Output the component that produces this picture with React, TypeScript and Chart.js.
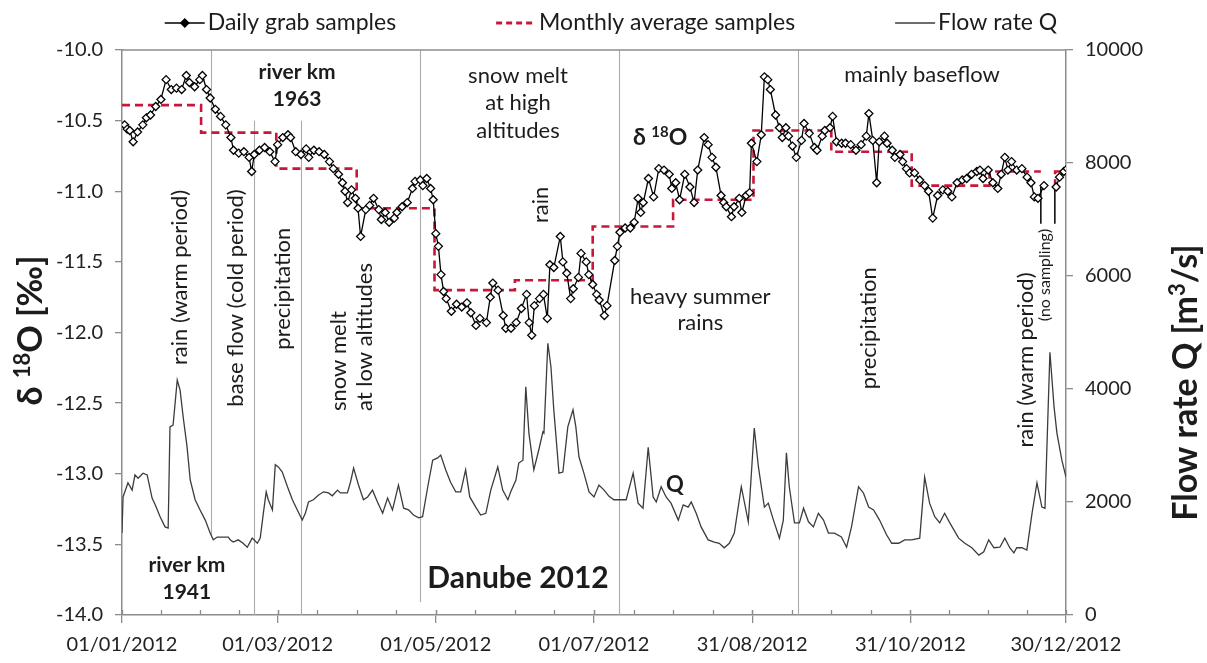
import React, { useEffect, useRef } from 'react';
import { Chart, registerables } from 'chart.js';

Chart.register(...registerables);

const FONT = 'Lato, "Open Sans", "DejaVu Sans", sans-serif';
const INK = '#1c1c1c';
const AXIS = '#8c8c8c';
const RED = '#c8173a';
const SEP = '#ababab';

// ---------- x axis (day of year 2012) ----------
const tickDays = [0, 60, 121, 182, 243, 304, 364];
const tickLabels = ['01/01/2012', '01/03/2012', '01/05/2012', '01/07/2012', '31/08/2012', '31/10/2012', '30/12/2012'];

// ---------- daily grab samples: delta 18O [permil] ----------
const dailyDays = [
  1, 2, 3, 4.3, 6, 8, 9.4, 11, 13, 15, 17, 19, 21, 23, 24.8, 26, 28, 30, 31, 32.6,
  34, 36, 38, 40, 42, 43, 45, 47, 49, 50, 51, 53, 55, 57, 59, 60, 62, 64, 65, 67,
  69, 71, 72, 74, 76, 78, 80, 81.5, 83.5, 85, 86, 87, 88.5, 90, 91, 92, 94, 95.5, 97, 99,
  100, 101.5, 103, 105, 106, 108, 110, 112, 113, 115, 116, 117.5, 119, 120, 121, 122, 123, 124, 125, 127,
  129, 131, 133, 134.5, 136.5, 138, 140.5, 142, 143, 145, 147, 148, 150, 152, 154, 156, 157, 158, 159, 161,
  162.5, 164, 165, 166.5, 169, 170, 171.5, 173, 174, 176, 177, 179, 180, 181.5, 183, 184, 186, 187, 190, 191,
  192, 194, 196, 197.5, 199, 200, 201, 203, 205, 207, 209, 211, 212, 213.5, 215, 217, 219, 220.6, 222, 224.5,
  226, 227.5, 229, 231, 232, 233, 235, 236, 238, 239, 240.7, 242, 242.7, 244.8, 246.5, 247.7, 249, 250, 252, 253.5,
  254.6, 256, 257, 258.5, 260, 262, 263, 265, 267, 268, 270, 271, 273, 274, 275.5, 277.5, 279, 281, 283, 285,
  287, 288, 289.5, 291, 292, 294, 295, 297, 298, 300, 301, 302.5, 303.7, 305.6, 307.6, 309.5, 311, 312.6, 314.5, 316.5,
  318.4, 320, 322, 324, 325.7, 327.6, 329.6, 330.8, 332, 334, 335.8, 337.7, 339, 340.4, 341.6, 343, 345, 347, 349, 350.5,
  351.8, 353.2, 355.5, 357.8, 360.2, 361.5, 363.2, 364.5,
];
const dailyD18O = [
  -10.53, -10.56, -10.57, -10.65, -10.58, -10.53, -10.48, -10.46, -10.40, -10.35, -10.21, -10.28, -10.27, -10.28, -10.18, -10.23, -10.26, -10.21, -10.18, -10.28,
  -10.34, -10.42, -10.47, -10.53, -10.62, -10.71, -10.73, -10.72, -10.76, -10.86, -10.74, -10.71, -10.69, -10.72, -10.79, -10.67, -10.62, -10.60, -10.62, -10.72,
  -10.74, -10.70, -10.76, -10.71, -10.72, -10.74, -10.79, -10.84, -10.88, -10.94, -11.00, -11.08, -10.99, -11.05, -11.12, -11.32, -11.13, -11.10, -11.05, -11.13,
  -11.20, -11.15, -11.22, -11.19, -11.15, -11.11, -11.08, -10.98, -10.93, -10.92, -10.96, -10.91, -10.98, -11.06, -11.30, -11.39, -11.59, -11.71, -11.76, -11.85,
  -11.80, -11.82, -11.79, -11.86, -11.95, -11.90, -11.93, -11.75, -11.65, -11.70, -11.88, -11.97, -11.97, -11.93, -11.83, -11.73, -11.93, -12.02, -11.81, -11.76,
  -11.73, -11.90, -11.52, -11.54, -11.32, -11.50, -11.58, -11.76, -11.69, -11.61, -11.44, -11.50, -11.59, -11.66, -11.73, -11.77, -11.88, -11.81, -11.49, -11.39,
  -11.29, -11.26, -11.26, -11.22, -11.05, -11.15, -11.08, -10.91, -11.04, -10.84, -10.85, -10.88, -10.98, -10.94, -11.06, -10.88, -10.97, -11.08, -10.85, -10.62,
  -10.67, -10.76, -10.83, -11.03, -11.08, -11.11, -11.18, -11.11, -11.05, -11.15, -11.03, -11.01, -10.66, -10.79, -10.60, -10.19, -10.21, -10.28, -10.46, -10.55,
  -10.62, -10.55, -10.61, -10.68, -10.76, -10.64, -10.52, -10.59, -10.69, -10.71, -10.61, -10.57, -10.55, -10.47, -10.65, -10.66, -10.66, -10.67, -10.71, -10.67,
  -10.61, -10.45, -10.64, -10.94, -10.65, -10.61, -10.66, -10.71, -10.76, -10.74, -10.79, -10.84, -10.87, -10.87, -10.92, -10.96, -11.00, -11.19, -11.03, -10.99,
  -11.00, -11.04, -10.94, -10.92, -10.91, -10.88, -10.86, -10.85, -10.91, -10.85, -10.94, -10.98, -10.88, -10.76, -10.85, -10.79, -10.85, -10.84, -10.90, -10.94,
  -11.04, -11.05, -10.96, null, -10.97, -10.90, -10.86, -10.84,
];

// ---------- no-sampling markers (vertical strokes) ----------
const gapDays = [354.3, 354.3, 357, 359.7, 359.7];
const gapD18O = [-10.97, -11.23, null, -11.23, -10.97];

// ---------- monthly average samples ----------
const avgDays = [0, 30.5, 59.5, 90.5, 120.5, 151.5, 181.5, 212.5, 243.5, 273.5, 304.5, 334.5, 354.3, 357, 359.7, 359.8, 364.5];
const avgD18O = [-10.39, -10.585, -10.84, -11.12, -11.70, -11.63, -11.25, -11.06, -10.57, -10.72, -10.96, -10.86, -10.86, null, -10.97, -10.86, -10.86];

// ---------- flow rate Q [m3/s] ----------
const flowDays = [
  0, 0.4, 2.3, 3.9, 5, 6.2, 8.1, 9.7, 11.6, 12.8, 14.7, 16.6, 17.8, 18.5, 19.7, 21.3, 22.4, 23.6, 25.1, 26.3,
  28.2, 30.1, 32.1, 34, 35.2, 36.7, 39, 41, 41.7, 42.9, 44.8, 46.7, 48.3, 50.2, 52.2, 53.3, 54.5, 55.6, 56.4, 58,
  59.1, 60.3, 61.8, 63.8, 65.7, 67.6, 69.5, 70.7, 71.9, 73.8, 75.7, 77.7, 79.6, 81.1, 83.1, 84.2, 86.9, 88.1, 89.3, 91.2,
  93.1, 94.7, 96.6, 98.5, 100.5, 102.4, 104.3, 106.6, 108.6, 110.5, 112.4, 114.4, 115.9, 117.9, 119.8, 121.7, 122.9, 124.8, 126.7, 128.7,
  130.6, 132.5, 134.1, 136.4, 138.3, 140.3, 142.2, 144.9, 146.8, 148.8, 149.9, 151.9, 153, 154.6, 155.7, 156.9, 158.8, 160.7, 162.3, 162.7,
  164.2, 165.4, 166.5, 168.5, 170, 171.9, 173.9, 175, 176.2, 178.1, 180.1, 182, 183.9, 185.9, 187.8, 189.7, 191.3, 194.4, 197.1, 199,
  200.9, 202.9, 204.8, 206, 207.9, 209.8, 211.7, 214.5, 216.4, 218.3, 219.5, 221.4, 223.3, 226, 228.4, 230.3, 232.2, 234.2, 236.1, 238.8,
  241.5, 243.8, 245.4, 247.7, 249.2, 251.2, 253.5, 255, 256.2, 257.3, 259.3, 261.2, 262.8, 264.7, 266.6, 268.5, 270.5, 272.4, 274.7, 277.4,
  279.4, 281.3, 284, 285.9, 287.9, 289.8, 292.1, 294.8, 296.8, 299.5, 301.8, 304.5, 307.6, 309.5, 311.4, 313.4, 315.3, 317.2, 319.2, 322.6,
  325, 327.7, 330.4, 332.3, 334.2, 336.2, 338.5, 340.4, 342.3, 343.9, 345, 347, 348.9, 350.9, 352.8, 354.7, 355.9, 357.8, 359.4, 360.5,
  362.4, 364,
];
const flowQ = [
  1450, 2090, 2340, 2210, 2480, 2420, 2510, 2480, 2070, 1950, 1740, 1560, 1540, 3330, 3360, 4160, 3980, 3500, 2970, 2390,
  2040, 1860, 1680, 1450, 1330, 1380, 1380, 1380, 1330, 1290, 1330, 1270, 1200, 1360, 1270, 1360, 1800, 2180, 2040, 1860,
  2660, 2620, 2530, 2270, 2040, 1860, 1680, 1800, 2000, 2040, 2120, 2180, 2160, 2110, 2210, 2160, 2160, 2350, 2600, 2300,
  2040, 2090, 2210, 2000, 1800, 2070, 1860, 2300, 1890, 1860, 1770, 1720, 1740, 2270, 2740, 2780, 2830, 2570, 2350, 2180,
  2180, 2570, 2090, 1910, 1770, 1800, 2210, 2620, 2210, 2040, 2180, 2390, 2690, 2740, 4040, 3220, 2570, 2920, 3240, 3220,
  4810, 4390, 3630, 2510, 2530, 3330, 3630, 3330, 2800, 2510, 2180, 2090, 2300, 2210, 2100, 2040, 2040, 2040, 2510, 1980,
  1890, 2970, 2090, 2000, 2270, 2090, 1980, 1680, 1950, 1910, 2000, 1800, 1560, 1330, 1290, 1270, 1190, 1270, 1450, 2270,
  1650, 3310, 2620, 1910, 1980, 1680, 1360, 1680, 2870, 2270, 1630, 1630, 1890, 1650, 1560, 1800, 1680, 1450, 1450, 1380,
  1200, 1560, 2270, 2160, 1910, 1860, 1680, 1420, 1270, 1270, 1330, 1330, 1360, 2440, 1980, 1740, 1630, 1800, 1630, 1360,
  1270, 1190, 1060, 1120, 1330, 1190, 1200, 1360, 1190, 1100, 1190, 1190, 1150, 1800, 2340, 1910, 1890, 4650, 3680, 3220,
  2740, 2440,
];

// ---------- annotation separators (day, top / bottom in permil) ----------
const separatorDays = [34.5, 51, 69, 115, 191.7, 260.5];
const separatorTop = [-10.0, -10.5, -10.5, -10.0, -10.0, -10.0];
const separatorBottom = [-13.45, -14.0, -14.0, -13.91, -14.0, -14.0];

type Note = { lines: string[]; day: number; d18o: number; size: number; bold?: boolean; rot?: boolean; align?: CanvasTextAlign; lh?: number };
const notes: Note[] = [
  { lines: ['river km', '1963'], day: 67.5, d18o: -10.255, size: 21, bold: true, lh: 27 },
  { lines: ['river km', '1941'], day: 25, d18o: -13.74, size: 21, bold: true, lh: 27 },
  { lines: ['Danube 2012'], day: 152.7, d18o: -13.74, size: 30, bold: true },
  { lines: ['snow melt', 'at high', 'altitudes'], day: 152.7, d18o: -10.375, size: 22, lh: 27.5 },
  { lines: ['heavy summer', 'rains'], day: 223, d18o: -11.84, size: 22, lh: 26 },
  { lines: ['mainly baseflow'], day: 308.5, d18o: -10.177, size: 22 },
  { lines: ['Q'], day: 213.2, d18o: -13.08, size: 22, bold: true },
  { lines: ['rain (warm period)'], day: 22.4, d18o: -11.61, size: 22, rot: true },
  { lines: ['base flow (cold period)'], day: 44, d18o: -11.756, size: 22, rot: true },
  { lines: ['precipitation'], day: 62, d18o: -11.69, size: 22, rot: true },
  { lines: ['snow melt'], day: 83.7, d18o: -12.556, size: 22, rot: true, align: 'left' },
  { lines: ['at low altitudes'], day: 93.7, d18o: -12.556, size: 22, rot: true, align: 'left' },
  { lines: ['rain'], day: 161.6, d18o: -11.097, size: 22, rot: true },
  { lines: ['precipitation'], day: 288, d18o: -11.97, size: 22, rot: true },
  { lines: ['rain (warm period)'], day: 348.6, d18o: -12.195, size: 22, rot: true },
  { lines: ['(no sampling)'], day: 356, d18o: -11.593, size: 16, rot: true },
];

type Part = { text: string; size: number; sup?: boolean };

function drawRich(ctx: CanvasRenderingContext2D, parts: Part[], cx: number, cy: number, rotate: boolean) {
  ctx.save();
  ctx.translate(cx, cy);
  if (rotate) ctx.rotate(-Math.PI / 2);
  ctx.textAlign = 'left';
  ctx.textBaseline = 'alphabetic';
  ctx.fillStyle = INK;
  let total = 0;
  const main = Math.max(...parts.map((p) => p.size));
  parts.forEach((p) => {
    ctx.font = `bold ${p.size}px ${FONT}`;
    total += ctx.measureText(p.text).width;
  });
  let xx = -total / 2;
  const base = main * 0.36;
  parts.forEach((p) => {
    ctx.font = `bold ${p.size}px ${FONT}`;
    ctx.fillText(p.text, xx, p.sup ? base - main * 0.36 : base);
    xx += ctx.measureText(p.text).width;
  });
  ctx.restore();
}

const decor = {
  id: 'decor',
  beforeDatasetsDraw(chart: any) {
    const { ctx, scales } = chart;
    const x = scales.x, y = scales.y;
    ctx.save();
    ctx.strokeStyle = SEP;
    ctx.lineWidth = 1.1;
    separatorDays.forEach((d, i) => {
      const px = Math.round(x.getPixelForValue(d)) + 0.5;
      ctx.beginPath();
      ctx.moveTo(px, y.getPixelForValue(separatorTop[i]));
      ctx.lineTo(px, y.getPixelForValue(separatorBottom[i]));
      ctx.stroke();
    });
    ctx.restore();
  },
  afterDraw(chart: any) {
    const { ctx, chartArea: ca, scales } = chart;
    const x = scales.x, y = scales.y;
    ctx.save();
    // top frame line
    ctx.strokeStyle = AXIS;
    ctx.lineWidth = 1.5;
    ctx.beginPath();
    ctx.moveTo(ca.left, ca.top);
    ctx.lineTo(ca.right, ca.top);
    ctx.stroke();
    // inner ticks (major + minor) on the x axis
    ctx.lineWidth = 1.3;
    for (let i = 0; i < tickDays.length - 1; i++) {
      for (let q = 0; q <= 4; q++) {
        const d = tickDays[i] + ((tickDays[i + 1] - tickDays[i]) * q) / 4;
        const px = Math.round(x.getPixelForValue(d)) + 0.5;
        ctx.beginPath();
        ctx.moveTo(px, ca.bottom);
        ctx.lineTo(px, ca.bottom - 5);
        ctx.stroke();
      }
    }
    // text notes
    ctx.fillStyle = INK;
    notes.forEach((n) => {
      ctx.save();
      ctx.font = `${n.bold ? 'bold ' : ''}${n.size}px ${FONT}`;
      const px = x.getPixelForValue(n.day);
      const py = y.getPixelForValue(n.d18o);
      ctx.translate(px, py);
      if (n.rot) ctx.rotate(-Math.PI / 2);
      ctx.textAlign = n.align || 'center';
      ctx.textBaseline = 'middle';
      const lh = n.lh || n.size * 1.2;
      const off = ((n.lines.length - 1) * lh) / 2;
      n.lines.forEach((l, k) => ctx.fillText(l, 0, k * lh - off));
      ctx.restore();
    });
    // delta 18O label
    drawRich(
      ctx,
      [
        { text: 'δ ', size: 23 },
        { text: '18', size: 15, sup: true },
        { text: 'O', size: 23 },
      ],
      x.getPixelForValue(207.5),
      y.getPixelForValue(-10.616),
      false
    );
    // axis titles
    drawRich(
      ctx,
      [
        { text: 'δ ', size: 34 },
        { text: '18', size: 22, sup: true },
        { text: 'O [‰]', size: 34 },
      ],
      30,
      (ca.top + ca.bottom) / 2 - 2,
      true
    );
    drawRich(
      ctx,
      [
        { text: 'Flow rate Q [m', size: 34 },
        { text: '3', size: 22, sup: true },
        { text: '/s]', size: 34 },
      ],
      chart.width - 22,
      (ca.top + ca.bottom) / 2 + 50,
      true
    );
    // legend
    const ds = chart.data.datasets;
    const items = [
      { label: ds[0].label, kind: 'daily' },
      { label: ds[2].label, kind: 'avg' },
      { label: ds[3].label, kind: 'flow' },
    ];
    const LS = 23;
    ctx.font = `${LS}px ${FONT}`;
    const sym = 40, gap = 3, space = 100;
    const widths = items.map((it) => sym + gap + ctx.measureText(it.label).width);
    const total = widths.reduce((a, b) => a + b, 0) + space * (items.length - 1);
    let x0 = 611 - total / 2;
    const yc = 23;
    items.forEach((it, i) => {
      ctx.save();
      if (it.kind === 'daily') {
        ctx.strokeStyle = '#000';
        ctx.lineWidth = 1.5;
        ctx.beginPath();
        ctx.moveTo(x0, yc);
        ctx.lineTo(x0 + sym, yc);
        ctx.stroke();
        ctx.fillStyle = '#000';
        ctx.beginPath();
        const cx = x0 + sym / 2;
        ctx.moveTo(cx, yc - 5);
        ctx.lineTo(cx + 5, yc);
        ctx.lineTo(cx, yc + 5);
        ctx.lineTo(cx - 5, yc);
        ctx.closePath();
        ctx.fill();
      } else if (it.kind === 'avg') {
        ctx.strokeStyle = RED;
        ctx.lineWidth = 3;
        ctx.setLineDash([6, 4]);
        ctx.beginPath();
        ctx.moveTo(x0, yc);
        ctx.lineTo(x0 + sym, yc);
        ctx.stroke();
      } else {
        ctx.strokeStyle = '#3c3c3c';
        ctx.lineWidth = 1.5;
        ctx.beginPath();
        ctx.moveTo(x0, yc);
        ctx.lineTo(x0 + sym, yc);
        ctx.stroke();
      }
      ctx.restore();
      ctx.fillStyle = INK;
      ctx.font = `${LS}px ${FONT}`;
      ctx.textAlign = 'left';
      ctx.textBaseline = 'middle';
      ctx.fillText(it.label, x0 + sym + gap, yc);
      x0 += widths[i] + space;
    });
    ctx.restore();
  },
};

export default function App() {
  const ref = useRef<HTMLCanvasElement>(null);
  useEffect(() => {
    if (!ref.current) return;
    const tickFont = { family: FONT, size: 20 };
    const chart = new Chart(ref.current, {
      type: 'line',
      data: {
        datasets: [
          {
            label: 'Daily grab samples',
            data: dailyDays.map((d, i) => ({ x: d, y: dailyD18O[i] })),
            yAxisID: 'y',
            borderColor: '#000',
            borderWidth: 1.3,
            pointStyle: 'rectRot',
            pointRadius: 4,
            pointBackgroundColor: '#fff',
            pointBorderColor: '#000',
            pointBorderWidth: 1.3,
            spanGaps: false,
            order: 0,
          },
          {
            label: 'gap',
            data: gapDays.map((d, i) => ({ x: d, y: gapD18O[i] })),
            yAxisID: 'y',
            borderColor: '#000',
            borderWidth: 1.5,
            pointRadius: 0,
            spanGaps: false,
            order: 1,
          },
          {
            label: 'Monthly average samples',
            data: avgDays.map((d, i) => ({ x: d, y: avgD18O[i] })),
            yAxisID: 'y',
            stepped: 'before',
            borderColor: RED,
            borderWidth: 2.6,
            borderDash: [8, 5],
            pointRadius: 0,
            spanGaps: false,
            order: 2,
          },
          {
            label: 'Flow rate Q',
            data: flowDays.map((d, i) => ({ x: d, y: flowQ[i] })),
            yAxisID: 'y1',
            borderColor: '#3c3c3c',
            borderWidth: 1.3,
            pointRadius: 0,
            order: 3,
          },
        ] as any,
      },
      options: {
        responsive: false,
        devicePixelRatio: 1,
        animation: false,
        events: [],
        layout: { padding: { top: 50, left: 0, right: 0, bottom: 0 } },
        elements: { line: { tension: 0 } },
        plugins: { legend: { display: false }, tooltip: { enabled: false } },
        scales: {
          x: {
            type: 'linear',
            min: 0,
            max: 364,
            afterBuildTicks: (s: any) => {
              s.ticks = tickDays.map((v) => ({ value: v }));
            },
            afterFit: (s: any) => {
              s.height = 48;
            },
            ticks: {
              autoSkip: false,
              maxRotation: 0,
              minRotation: 0,
              padding: 10,
              font: tickFont,
              color: '#222',
              callback: (_v: any, i: number) => tickLabels[i],
            },
            grid: { drawOnChartArea: false, drawTicks: true, tickLength: 8, color: AXIS, lineWidth: 1.3 },
            border: { color: AXIS, width: 1.5 },
          },
          y: {
            type: 'linear',
            position: 'left',
            min: -14,
            max: -10,
            afterFit: (s: any) => {
              s.width = 122;
            },
            ticks: {
              stepSize: 0.5,
              padding: 12,
              font: tickFont,
              color: '#222',
              callback: (v: any) => Number(v).toFixed(1),
            },
            grid: { drawOnChartArea: false, drawTicks: true, tickLength: 7, color: AXIS, lineWidth: 1.3 },
            border: { color: AXIS, width: 1.5 },
          },
          y1: {
            type: 'linear',
            position: 'right',
            min: 0,
            max: 10000,
            afterFit: (s: any) => {
              s.width = 141;
            },
            ticks: {
              stepSize: 2000,
              padding: 12,
              font: tickFont,
              color: '#222',
              callback: (v: any) => String(v),
            },
            grid: { drawOnChartArea: false, drawTicks: true, tickLength: 7, color: AXIS, lineWidth: 1.3 },
            border: { color: AXIS, width: 1.5 },
          },
        },
      } as any,
      plugins: [decor],
    });
    return () => chart.destroy();
  }, []);
  return (
    <div style={{ position: 'fixed', left: 0, top: 0, width: 1207, height: 663, background: '#fff' }}>
      <canvas ref={ref} width={1207} height={663} style={{ display: 'block', width: '1207px', height: '663px' }} />
    </div>
  );
}
